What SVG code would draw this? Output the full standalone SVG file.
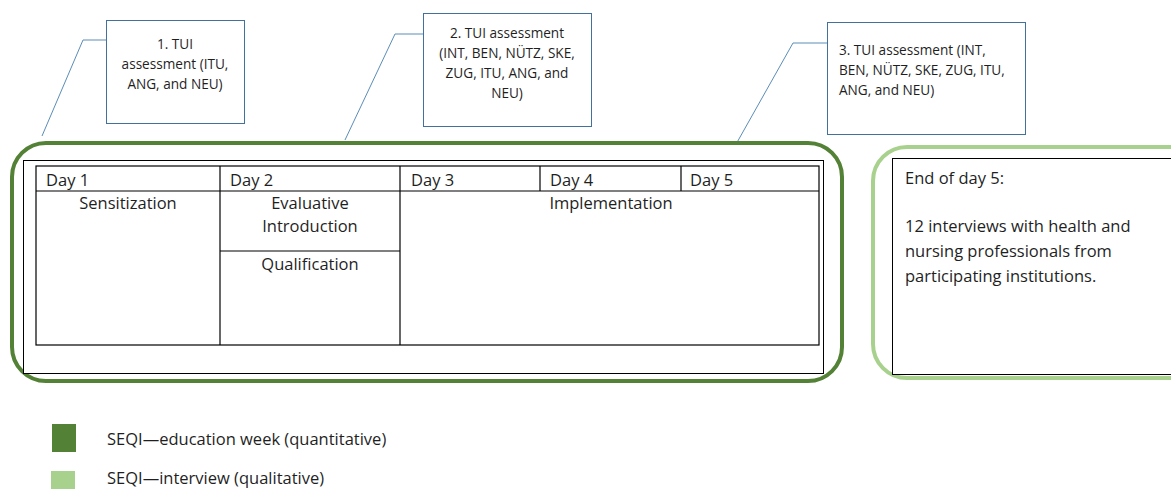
<svg xmlns="http://www.w3.org/2000/svg" width="1171" height="489" viewBox="0 0 1171 489">
<style>
text{font-family:"Open Sans","Liberation Sans",sans-serif;fill:#1f1f1f}
.s{font-size:13.6px}
.m{font-size:16.5px}
.c{text-anchor:middle}
.callout{fill:#fff;stroke:#41719C;stroke-width:1}
.conn{fill:none;stroke:#5B8DB8;stroke-width:1}
.tbl{fill:none;stroke:#000;stroke-width:1.2}
</style>
<rect width="1171" height="489" fill="#fff"/>
<g id="connectors">
<polyline class="conn" points="42,136 83,40 106,40"/>
<polyline class="conn" points="345,140 395,34 423,34"/>
<polyline class="conn" points="735,146 793,43 827,43"/>
</g>
<g id="tui1">
<rect class="callout" x="106.5" y="20.5" width="138" height="103"/>
<text class="s c" x="175" y="49">1. TUI</text>
<text class="s c" x="175" y="69">assessment (ITU,</text>
<text class="s c" x="175" y="89">ANG, and NEU)</text>
</g>
<g id="tui2">
<rect class="callout" x="423.5" y="13.5" width="168" height="113"/>
<text class="s c" x="507" y="38">2. TUI assessment</text>
<text class="s c" x="507" y="58">(INT, BEN, NÜTZ, SKE,</text>
<text class="s c" x="507" y="78">ZUG, ITU, ANG, and</text>
<text class="s c" x="507" y="98">NEU)</text>
</g>
<g id="tui3">
<rect class="callout" x="827.5" y="22.5" width="198" height="112"/>
<text class="s" x="839" y="55">3. TUI assessment (INT,</text>
<text class="s" x="839" y="75">BEN, NÜTZ, SKE, ZUG, ITU,</text>
<text class="s" x="839" y="95">ANG, and NEU)</text>
</g>
<g id="education-week">
<rect x="12" y="143" width="830" height="238" rx="34" ry="34" fill="#fff" stroke="#538135" stroke-width="4"/>
<rect x="23.5" y="160.5" width="800" height="213" fill="#fff" stroke="#000" stroke-width="1"/>
<rect class="tbl" x="36" y="166" width="783" height="179"/>
<line class="tbl" x1="36" y1="191" x2="819" y2="191"/>
<line class="tbl" x1="220" y1="166" x2="220" y2="345"/>
<line class="tbl" x1="400" y1="166" x2="400" y2="345"/>
<line class="tbl" x1="540" y1="166" x2="540" y2="191"/>
<line class="tbl" x1="681" y1="166" x2="681" y2="191"/>
<line class="tbl" x1="220" y1="251" x2="400" y2="251"/>
<text class="m" x="46" y="186">Day 1</text>
<text class="m" x="230" y="186">Day 2</text>
<text class="m" x="411" y="186">Day 3</text>
<text class="m" x="550" y="186">Day 4</text>
<text class="m" x="690" y="186">Day 5</text>
<text class="m c" x="128" y="209">Sensitization</text>
<text class="m c" x="310" y="209">Evaluative</text>
<text class="m c" x="310" y="232">Introduction</text>
<text class="m c" x="310" y="270">Qualification</text>
<text class="m c" x="611" y="209">Implementation</text>
</g>
<g id="interview">
<rect x="873" y="147" width="330" height="231" rx="34" ry="34" fill="#fff" stroke="#A9D18E" stroke-width="4"/>
<rect x="892.5" y="158.5" width="300" height="216" fill="#fff" stroke="#000" stroke-width="1"/>
<text class="m" x="905" y="184">End of day 5:</text>
<text class="m" x="905" y="232">12 interviews with health and</text>
<text class="m" x="905" y="257">nursing professionals from</text>
<text class="m" x="905" y="282">participating institutions.</text>
</g>
<g id="legend">
<rect x="52" y="424" width="24" height="28" fill="#538135"/>
<text class="m" x="107" y="445">SEQI—education week (quantitative)</text>
<rect x="51" y="471" width="24" height="20" fill="#A9D18E"/>
<text class="m" x="107" y="484">SEQI—interview (qualitative)</text>
</g>
</svg>
